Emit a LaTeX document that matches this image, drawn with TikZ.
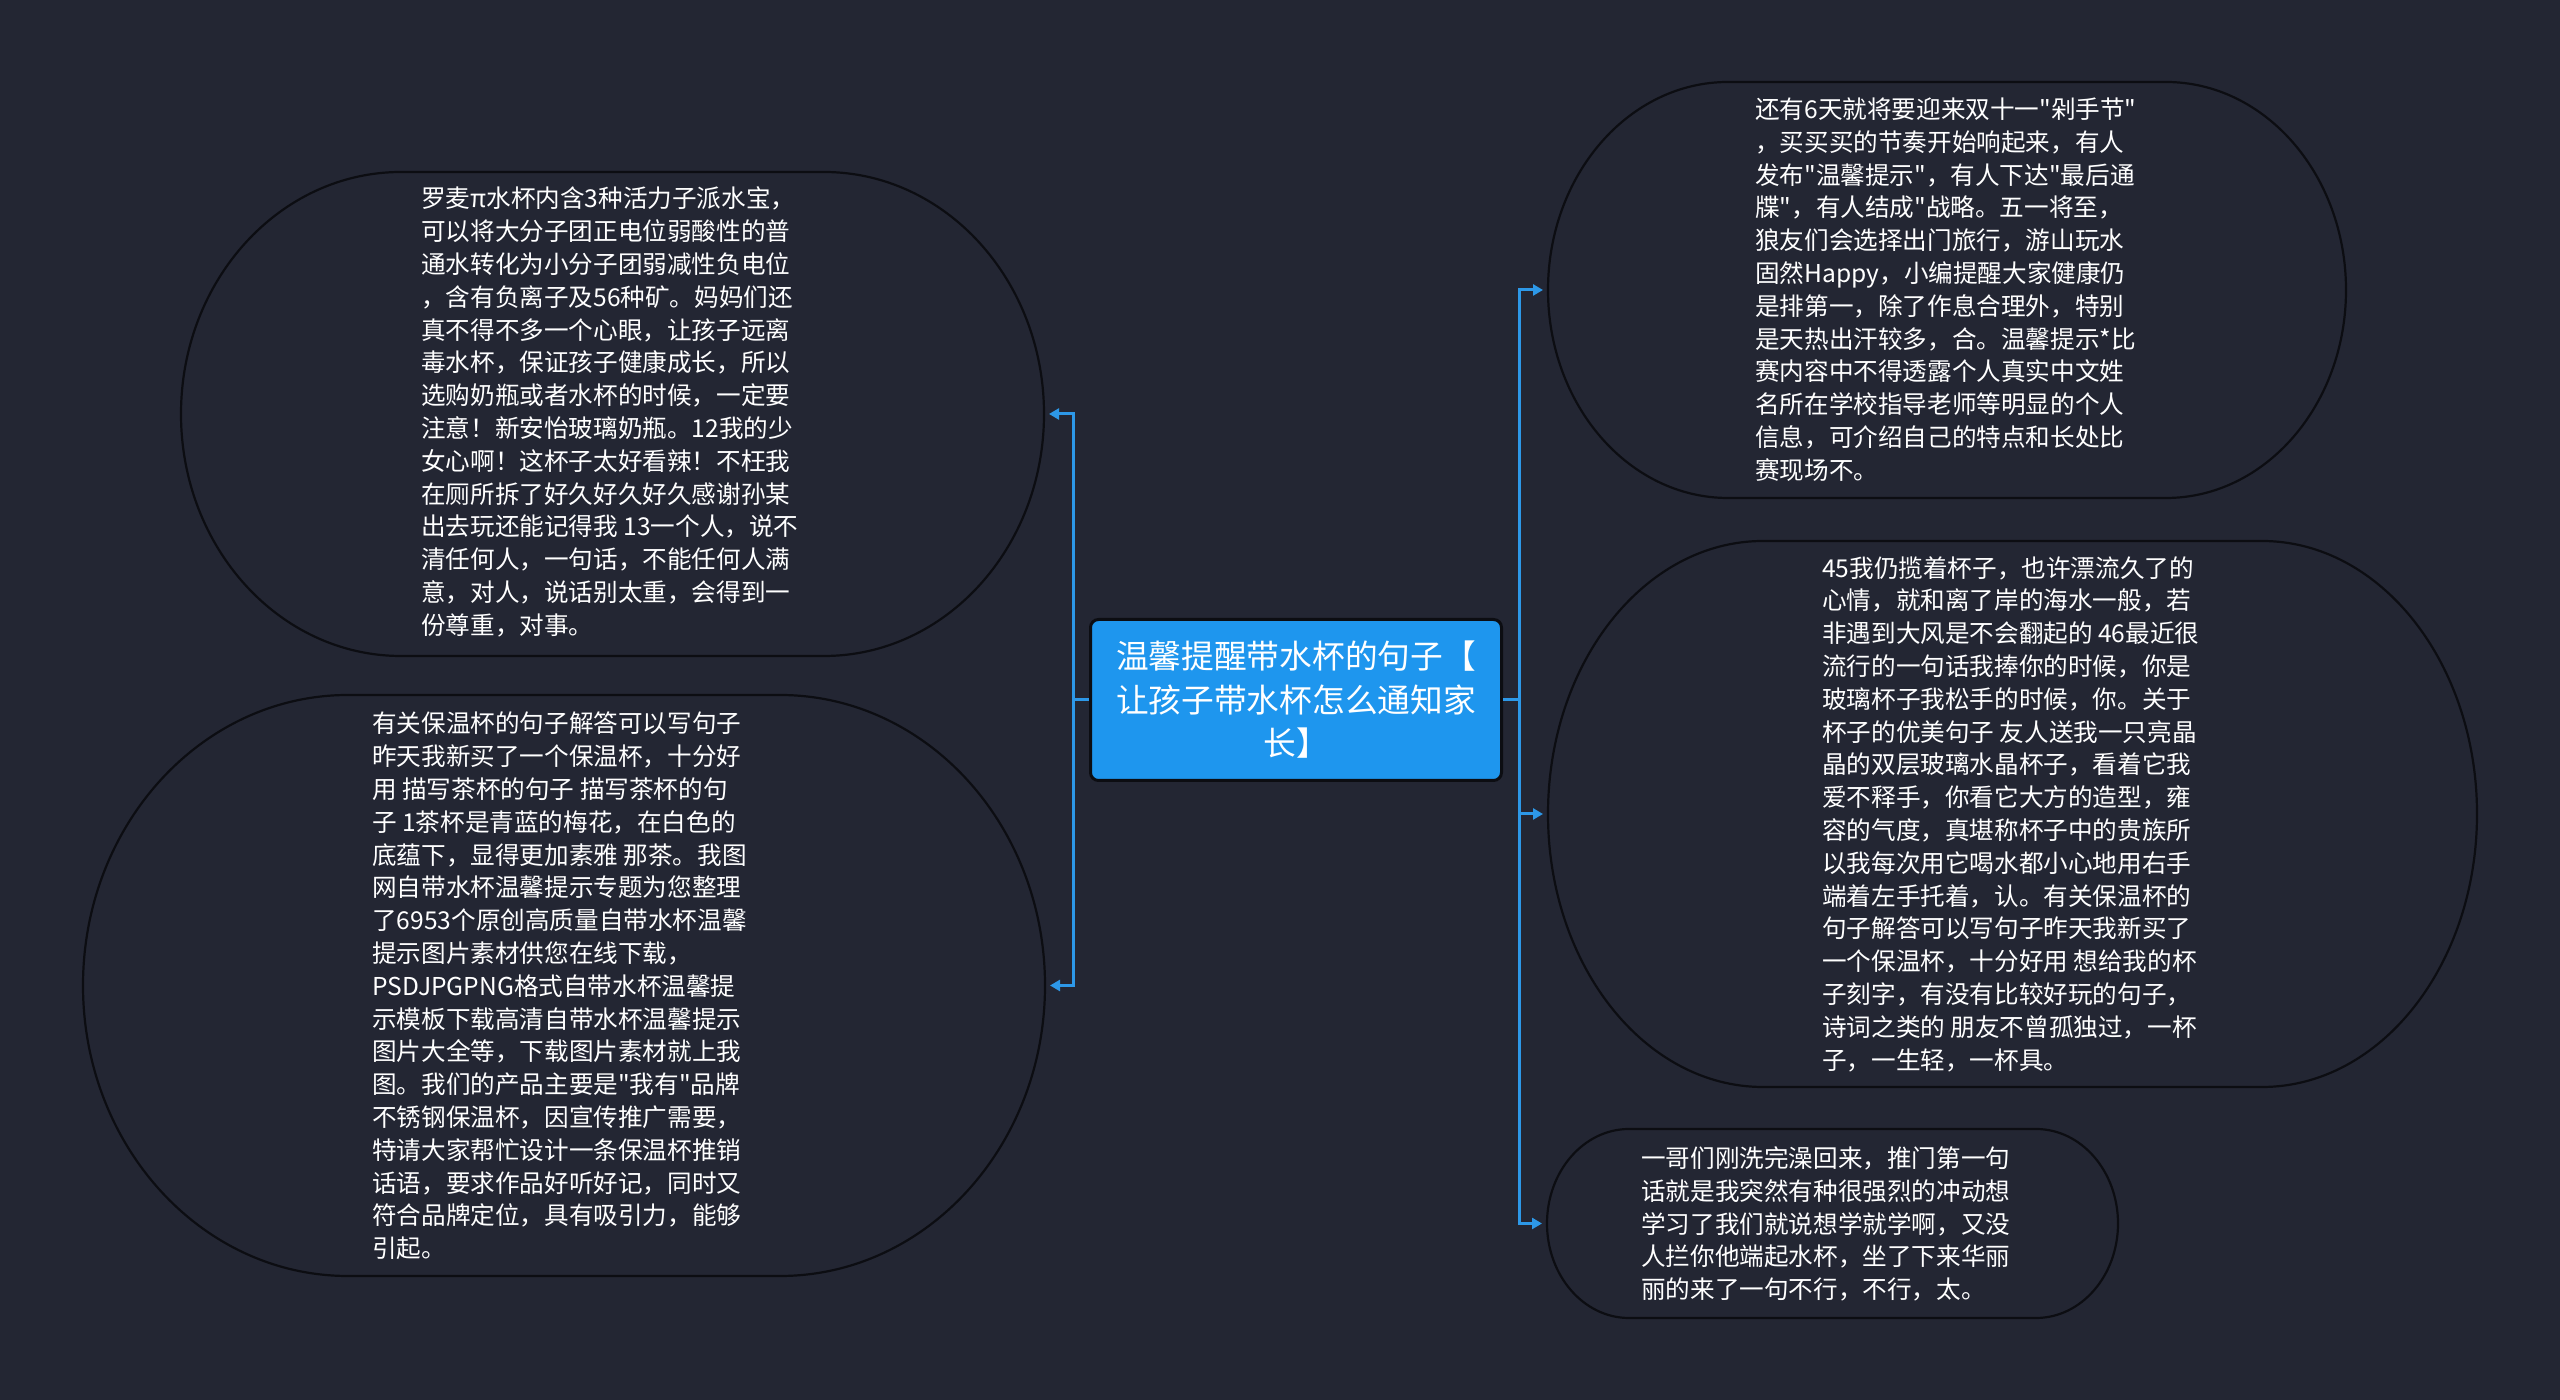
\documentclass[tikz,border=0pt]{standalone}
\usepackage{fontspec}
\newfontfamily\cjk{Noto Sans CJK SC}
\usetikzlibrary{arrows.meta}
\definecolor{bg}{RGB}{35,38,51}
\definecolor{blobedge}{RGB}{12,13,18}
\definecolor{connblue}{RGB}{45,152,232}
\definecolor{centerblue}{RGB}{30,150,238}
\newcommand\blobshape[6]{%
  \path[blobline] ({#1-#3/2},#2)
    arc[start angle=180,end angle=90,x radius=#5pt,y radius=#6pt]
    -- ({#1+#3/2-#5},{#2+#4/2})
    arc[start angle=90,end angle=0,x radius=#5pt,y radius=#6pt]
    arc[start angle=0,end angle=-90,x radius=#5pt,y radius=#6pt]
    -- ({#1-#3/2+#5},{#2-#4/2})
    arc[start angle=270,end angle=180,x radius=#5pt,y radius=#6pt]
    -- cycle;}
\begin{document}
\begin{tikzpicture}[x=1pt,y=1pt,
  blobnode/.style={rectangle, draw=none, inner sep=0pt, outer sep=5pt},
  blobline/.style={draw=blobedge, line width=2.2pt, fill=bg},
  blobtext/.style={text=white, align=left, inner sep=0pt, anchor=west,
    font=\cjk\fontsize{24.6pt}{32.8pt}\selectfont},
  centerbox/.style={rectangle, rounded corners=8pt, fill=centerblue, draw=blobedge,
    line width=3pt, minimum width=411pt, minimum height=161pt, inner sep=0pt,
    text=white, align=center, font=\cjk\fontsize{32.7pt}{43.5pt}\selectfont},
  conn/.style={draw=connblue, line width=3pt, -{Triangle[length=10pt,width=11pt]}}
  ]
\path[fill=bg] (0,0) rectangle (2560,1400);
\useasboundingbox (0,0) rectangle (2560,1400);

% blob outlines
\blobshape{612.5}{986}{863}{484}{220}{242}
\blobshape{564}{414.5}{962}{581}{265}{290.5}
\blobshape{1947}{1110}{798}{416}{180}{208}
\blobshape{2012.5}{586}{929}{546}{215}{273}
\blobshape{1832.5}{176.5}{571}{189}{82}{94.5}

% blob nodes (for connectors)
\node[blobnode, minimum width=863pt, minimum height=484pt] (A) at (612.5,986) {};
\node[blobnode, minimum width=962pt, minimum height=581pt] (B) at (564,414.5) {};
\node[blobnode, minimum width=798pt, minimum height=416pt] (C) at (1947,1110) {};
\node[blobnode, minimum width=929pt, minimum height=546pt] (D) at (2012.5,586) {};
\node[blobnode, minimum width=571pt, minimum height=189pt] (E) at (1832.5,176.5) {};

% texts
\node[blobtext] (At) at (421,988) {罗麦π水杯内含3种活力子派水宝，\\
可以将大分子团正电位弱酸性的普\\
通水转化为小分子团弱减性负电位\\
，含有负离子及56种矿。妈妈们还\\
真不得不多一个心眼，让孩子远离\\
毒水杯，保证孩子健康成长，所以\\
选购奶瓶或者水杯的时候，一定要\\
注意！新安怡玻璃奶瓶。12我的少\\
女心啊！这杯子太好看辣！不枉我\\
在厕所拆了好久好久好久感谢孙某\\
出去玩还能记得我 13一个人，说不\\
清任何人，一句话，不能任何人满\\
意，对人，说话别太重，会得到一\\
份尊重，对事。};

\node[blobtext] (Bt) at (372,414) {有关保温杯的句子解答可以写句子\\
昨天我新买了一个保温杯，十分好\\
用 描写茶杯的句子 描写茶杯的句\\
子 1茶杯是青蓝的梅花，在白色的\\
底蕴下，显得更加素雅 那茶。我图\\
网自带水杯温馨提示专题为您整理\\
了6953个原创高质量自带水杯温馨\\
提示图片素材供您在线下载，\\
PSDJPGPNG格式自带水杯温馨提\\
示模板下载高清自带水杯温馨提示\\
图片大全等，下载图片素材就上我\\
图。我们的产品主要是"我有"品牌\\
不锈钢保温杯，因宣传推广需要，\\
特请大家帮忙设计一条保温杯推销\\
话语，要求作品好听好记，同时又\\
符合品牌定位，具有吸引力，能够\\
引起。};

\node[blobtext] (Ct) at (1755,1110.5) {还有6天就将要迎来双十一"剁手节"\\
，买买买的节奏开始响起来，有人\\
发布"温馨提示"，有人下达"最后通\\
牒"，有人结成"战略。五一将至，\\
狼友们会选择出门旅行，游山玩水\\
固然Happy，小编提醒大家健康仍\\
是排第一，除了作息合理外，特别\\
是天热出汗较多，合。温馨提示*比\\
赛内容中不得透露个人真实中文姓\\
名所在学校指导老师等明显的个人\\
信息，可介绍自己的特点和长处比\\
赛现场不。};

\node[blobtext] (Dt) at (1822,586) {45我仍揽着杯子，也许漂流久了的\\
心情，就和离了岸的海水一般，若\\
非遇到大风是不会翻起的 46最近很\\
流行的一句话我捧你的时候，你是\\
玻璃杯子我松手的时候，你。关于\\
杯子的优美句子 友人送我一只亮晶\\
晶的双层玻璃水晶杯子，看着它我\\
爱不释手，你看它大方的造型，雍\\
容的气度，真堪称杯子中的贵族所\\
以我每次用它喝水都小心地用右手\\
端着左手托着，认。有关保温杯的\\
句子解答可以写句子昨天我新买了\\
一个保温杯，十分好用 想给我的杯\\
子刻字，有没有比较好玩的句子，\\
诗词之类的 朋友不曾孤独过，一杯\\
子，一生轻，一杯具。};

\node[blobtext] (Et) at (1641,176) {一哥们刚洗完澡回来，推门第一句\\
话就是我突然有种很强烈的冲动想\\
学习了我们就说想学就学啊，又没\\
人拦你他端起水杯，坐了下来华丽\\
丽的来了一句不行，不行，太。};

% center
\node[centerbox] (ctr) at (1296,700) {温馨提醒带水杯的句子【\\让孩子带水杯怎么通知家\\长】};

% connectors
\draw[conn] (ctr.west) -- ++(-16,0) |- (A.east);
\draw[conn] (ctr.west) -- ++(-16,0) |- (B.east);
\draw[conn] (ctr.east) -- ++(16,0) |- (C.west);
\draw[conn] (ctr.east) -- ++(16,0) |- (D.west);
\draw[conn] (ctr.east) -- ++(16,0) |- (E.west);
\end{tikzpicture}
\end{document}
